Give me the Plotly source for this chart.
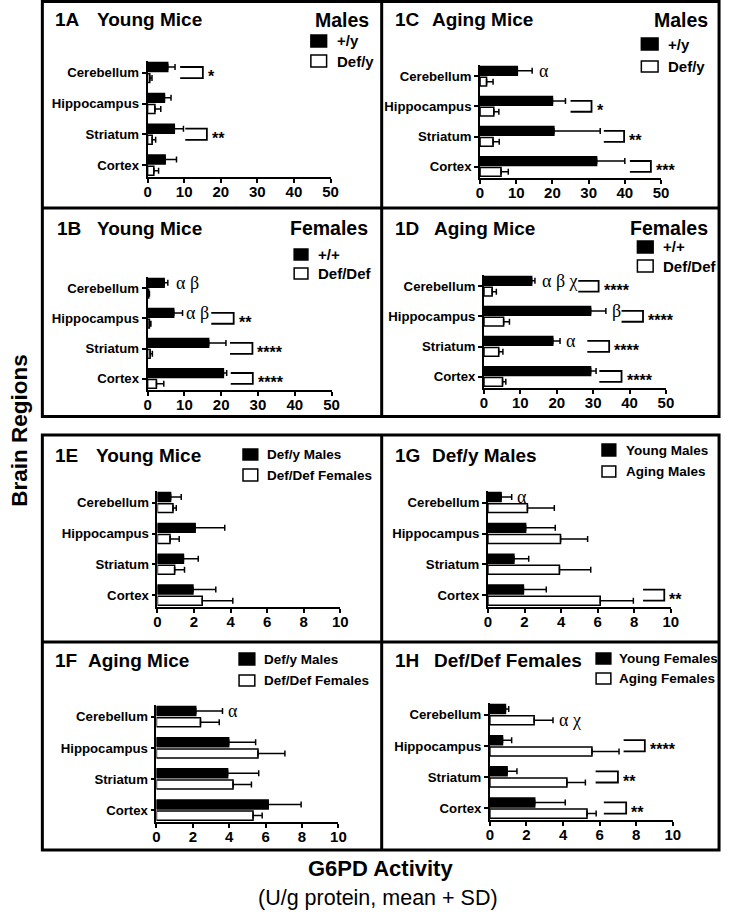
import plotly.graph_objects as go

W, H = 730, 912
SANS = "Liberation Sans, Arial, Helvetica, sans-serif"
SERIF = "Liberation Serif, DejaVu Serif, Times New Roman, serif"

# ---------------- data ----------------
regions = ["Cerebellum", "Hippocampus", "Striatum", "Cortex"]
ticks50 = [0, 10, 20, 30, 40, 50]
ticks10 = [0, 2, 4, 6, 8, 10]

# 1A young males
a_wt = [5.5, 4.6, 7.3, 4.8]
a_wt_sd = [2.0, 1.8, 2.5, 3.1]
a_def = [0.6, 2.0, 1.25, 1.7]
a_def_sd = [0.6, 1.6, 0.95, 1.3]
# 1C aging males
c_wt = [10.3, 20.0, 20.4, 32.2]
c_wt_sd = [4.1, 3.6, 12.8, 7.8]
c_def = [1.8, 3.8, 3.6, 5.8]
c_def_sd = [1.8, 1.4, 1.7, 2.0]
# 1B young females
b_wt = [4.5, 7.1, 16.6, 20.6]
b_wt_sd = [1.0, 2.4, 4.7, 0.9]
b_def = [0.3, 0.5, 0.7, 2.4]
b_def_sd = [0.2, 0.4, 0.6, 2.0]
# 1D aging females
d_wt = [13.1, 29.3, 18.9, 29.3]
d_wt_sd = [0.9, 4.2, 2.0, 1.5]
d_def = [2.25, 5.4, 4.05, 5.1]
d_def_sd = [1.15, 1.6, 1.15, 0.9]
# deficient mice (1E-1H)
young_m = [0.72, 2.06, 1.42, 1.94]
young_m_sd = [0.58, 1.62, 0.81, 1.25]
young_f = [0.85, 0.69, 0.94, 2.45]
young_f_sd = [0.18, 0.50, 0.54, 1.67]
aging_m = [2.16, 3.97, 3.91, 6.14]
aging_m_sd = [1.47, 1.48, 1.71, 1.81]
aging_f = [2.42, 5.58, 4.21, 5.31]
aging_f_sd = [1.03, 1.48, 1.01, 0.50]

# significance brackets: (region index, x start, x end, label)
sig_A = [(0, 8.9, 15.1, "*"), (2, 10.3, 16.2, "**")]
sig_C = [(1, 25.0, 30.8, "*"), (2, 34.2, 39.8, "**"), (3, 41.4, 47.2, "***")]
sig_B = [(1, 17.3, 23.4, "**"), (2, 22.4, 28.5, "****"), (3, 22.6, 28.6, "****")]
sig_D = [(0, 25.9, 31.5, "****"), (1, 37.8, 43.7, "****"),
         (2, 28.4, 34.4, "****"), (3, 31.7, 37.8, "****")]
sig_E = []
sig_F = []
sig_G = [(3, 8.48, 9.64, "**")]
sig_H = [(1, 7.31, 8.47, "****"), (2, 5.78, 7.0, "**"), (3, 6.23, 7.45, "**")]

# greek markers: (region index, series index, x, label)
greek_A = []
greek_C = [(0, 0, 15.6, "α")]
greek_B = [(0, 0, 7.3, "α β"), (1, 0, 10.0, "α β")]
greek_D = [(0, 0, 15.3, "α β χ"), (1, 0, 34.5, "β"), (2, 0, 22.0, "α")]
greek_E = []
greek_F = [(0, 0, 3.82, "α")]
greek_G = [(0, 0, 1.49, "α")]
greek_H = [(0, 1, 3.68, "α χ")]

# ---------------- layout helpers ----------------
def px(x):
    return x / W


def py(y):
    return 1 - y / H


BAR_OFF = [-0.33, 0.03]
BAR_W = 0.29
FILL = ["black", "white"]

panels = [
    dict(num="1A", title="Young Mice", tx=(50, 93), ty=20, sex="Males", sexr=373,
         series=[(a_wt, a_wt_sd), (a_def, a_def_sd)], xmax=50, ticks=ticks50,
         xd=(146, 332), yd=(61, 177), sig=sig_A, greek=greek_A,
         leg=["+/y", "Def/y"], lsq=(312, 328, 35, 47, 55, 67), ltx=337, lfs=15),
    dict(num="1C", title="Aging Mice", tx=(395, 433), ty=20, sex="Males", sexr=718,
         series=[(c_wt, c_wt_sd), (c_def, c_def_sd)], xmax=50, ticks=ticks50,
         xd=(484, 668), yd=(65, 178), sig=sig_C, greek=greek_C,
         leg=["+/y", "Def/y"], lsq=(648, 665, 38, 50, 61, 72), ltx=673, lfs=15),
    dict(num="1B", title="Young Mice", tx=(52, 93), ty=228, sex="Females", sexr=372,
         series=[(b_wt, b_wt_sd), (b_def, b_def_sd)], xmax=50, ticks=ticks50,
         xd=(146, 333), yd=(277, 390), sig=sig_B, greek=greek_B,
         leg=["+/+", "Def/Def"], lsq=(295, 309, 249, 260, 268, 279), ltx=317, lfs=15),
    dict(num="1D", title="Aging Mice", tx=(395, 435), ty=228, sex="Females", sexr=718,
         series=[(d_wt, d_wt_sd), (d_def, d_def_sd)], xmax=50, ticks=ticks50,
         xd=(488, 673), yd=(275, 388), sig=sig_D, greek=greek_D,
         leg=["+/+", "Def/Def"], lsq=(644, 660, 241, 253, 260, 272), ltx=668, lfs=15),
    dict(num="1E", title="Young Mice", tx=(50, 92), ty=455, sex=None,
         series=[(young_m, young_m_sd), (young_f, young_f_sd)], xmax=10, ticks=ticks10,
         xd=(156, 342), yd=(491, 607), sig=sig_E, greek=greek_E,
         leg=["Def/y Males", "Def/Def Females"], lsq=(243, 258, 449, 460, 469, 481), ltx=265, lfs=13.5),
    dict(num="1G", title="Def/y Males", tx=(395, 433), ty=455, sex=None,
         series=[(young_m, young_m_sd), (aging_m, aging_m_sd)], xmax=10, ticks=ticks10,
         xd=(492, 678), yd=(491, 607), sig=sig_G, greek=greek_G,
         leg=["Young Males", "Aging Males"], lsq=(608, 622, 444, 456, 466, 477), ltx=630, lfs=13.5),
    dict(num="1F", title="Aging Mice", tx=(50, 83), ty=660, sex=None,
         series=[(aging_m, aging_m_sd), (aging_f, aging_f_sd)], xmax=10, ticks=ticks10,
         xd=(155, 340), yd=(705, 822), sig=sig_F, greek=greek_F,
         leg=["Def/y Males", "Def/Def Females"], lsq=(239, 255, 653, 665, 675, 686), ltx=262, lfs=13.5),
    dict(num="1H", title="Def/Def Females", tx=(395, 435), ty=660, sex=None,
         series=[(young_f, young_f_sd), (aging_f, aging_f_sd)], xmax=10, ticks=ticks10,
         xd=(494, 680), yd=(703, 820), sig=sig_H, greek=greek_H,
         leg=["Young Females", "Aging Females"], lsq=(602, 617, 653, 664, 673, 684), ltx=623, lfs=13.5),
]

fig = go.Figure()
shapes = []
annotations = []
layout_axes = {}

for i, p in enumerate(panels, start=1):
    sfx = "" if i == 1 else str(i)
    xa, ya = "x" + sfx, "y" + sfx
    ypos = list(range(len(regions)))
    for s, (vals, sds) in enumerate(p["series"]):
        fig.add_trace(go.Bar(
            y=ypos, x=vals, orientation="h", offset=BAR_OFF[s], width=BAR_W,
            marker=dict(color=FILL[s], line=dict(color="black", width=1.5)),
            error_x=dict(type="data", array=sds, arrayminus=[0] * len(sds),
                         symmetric=False, color="black", thickness=1.5, width=3),
            xaxis=xa, yaxis=ya, showlegend=False, hoverinfo="skip"))
    layout_axes["xaxis" + sfx] = dict(
        domain=[px(p["xd"][0]), px(p["xd"][1])], anchor=ya, range=[0, p["xmax"]],
        tickvals=p["ticks"], ticktext=[str(t) for t in p["ticks"]],
        showline=True, linecolor="black", linewidth=1.8, ticks="outside",
        ticklen=4, tickwidth=1.8, tickcolor="black", showgrid=False, zeroline=False,
        ticklabelstandoff=-4,
        tickfont=dict(family=SANS, size=15, color="black", weight="bold"), fixedrange=True)
    layout_axes["yaxis" + sfx] = dict(
        domain=[py(p["yd"][1]), py(p["yd"][0])], anchor=xa, range=[3.38, -0.38],
        tickvals=ypos, ticktext=regions, showline=True, linecolor="black",
        linewidth=1.8, ticks="outside", ticklen=4, tickwidth=1.5, tickcolor="black",
        showgrid=False, zeroline=False,
        tickfont=dict(family=SANS, size=13.2, color="black", weight="bold"), fixedrange=True)

    cen = [BAR_OFF[s] + BAR_W / 2 for s in range(2)]
    for (r, x0, x1, lab) in p["sig"]:
        yb, yw = r + cen[0], r + cen[1]
        shapes.append(dict(type="path", xref=xa, yref=ya,
                           path=f"M {x0},{yb} L {x1},{yb} L {x1},{yw} L {x0},{yw}",
                           line=dict(color="black", width=1.8)))
        annotations.append(dict(x=x1, y=r, xref=xa, yref=ya, text=lab, showarrow=False,
                                xanchor="left", yanchor="middle", xshift=3, yshift=-4,
                                font=dict(family=SANS, size=16, color="black", weight="bold")))
    for (r, s, x, lab) in p["greek"]:
        annotations.append(dict(x=x, y=r + cen[s], xref=xa, yref=ya, text=lab,
                                showarrow=False, xanchor="left", yanchor="middle",
                                font=dict(family=SERIF, size=18, color="black")))

    # title
    annotations.append(dict(x=px(p["tx"][0]), y=py(p["ty"]), xref="paper", yref="paper",
                            text=p["num"], showarrow=False, xanchor="left", yanchor="middle",
                            font=dict(family=SANS, size=19, color="black", weight="bold")))
    annotations.append(dict(x=px(p["tx"][1]), y=py(p["ty"]), xref="paper", yref="paper",
                            text=p["title"], showarrow=False, xanchor="left", yanchor="middle",
                            font=dict(family=SANS, size=19, color="black", weight="bold")))
    if p["sex"]:
        annotations.append(dict(x=px(p["sexr"]), y=py(p["ty"]), xref="paper", yref="paper",
                                text=p["sex"], showarrow=False, xanchor="right", yanchor="middle",
                                font=dict(family=SANS, size=19.5, color="black", weight="bold")))
    # legend
    lx0, lx1, by0, by1, wy0, wy1 = p["lsq"]
    for s, (y0, y1) in enumerate([(by0, by1), (wy0, wy1)]):
        shapes.append(dict(type="rect", xref="paper", yref="paper",
                           x0=px(lx0), x1=px(lx1), y0=py(y1), y1=py(y0),
                           fillcolor=FILL[s], line=dict(color="black", width=1.5)))
        annotations.append(dict(x=px(p["ltx"]), y=py((y0 + y1) / 2), xref="paper", yref="paper",
                                text=p["leg"][s], showarrow=False, xanchor="left", yanchor="middle",
                                font=dict(family=SANS, size=p["lfs"], color="black", weight="bold")))

# panel borders
BL = dict(color="black", width=3)
for (top, mid, bot) in [(1.5, 208, 416.5), (435, 642, 850)]:
    shapes.append(dict(type="rect", xref="paper", yref="paper", x0=px(39), x1=px(727),
                       y0=py(bot), y1=py(top), line=BL))
    shapes.append(dict(type="line", xref="paper", yref="paper", x0=px(384), x1=px(384),
                       y0=py(bot), y1=py(top), line=BL))
    shapes.append(dict(type="line", xref="paper", yref="paper", x0=px(39), x1=px(727),
                       y0=py(mid), y1=py(mid), line=BL))

annotations.append(dict(x=px(15), y=py(430), xref="paper", yref="paper", text="Brain Regions",
                        textangle=-90, showarrow=False, xanchor="center", yanchor="middle",
                        font=dict(family=SANS, size=22.5, color="black", weight="bold")))
annotations.append(dict(x=px(383), y=py(868), xref="paper", yref="paper", text="G6PD Activity",
                        showarrow=False, xanchor="center", yanchor="middle",
                        font=dict(family=SANS, size=22, color="black", weight="bold")))
annotations.append(dict(x=px(380), y=py(898), xref="paper", yref="paper",
                        text="(U/g protein, mean + SD)", showarrow=False,
                        xanchor="center", yanchor="middle",
                        font=dict(family=SANS, size=21.5, color="black")))

fig.update_layout(width=W, height=H, margin=dict(l=0, r=0, t=0, b=0),
                  paper_bgcolor="white", plot_bgcolor="white", barmode="overlay",
                  shapes=shapes, annotations=annotations, showlegend=False,
                  **layout_axes)
fig.write_html("out.html", config={"displayModeBar": False},
               post_script="document.body.style.margin='0px';document.body.style.overflow='hidden';")
